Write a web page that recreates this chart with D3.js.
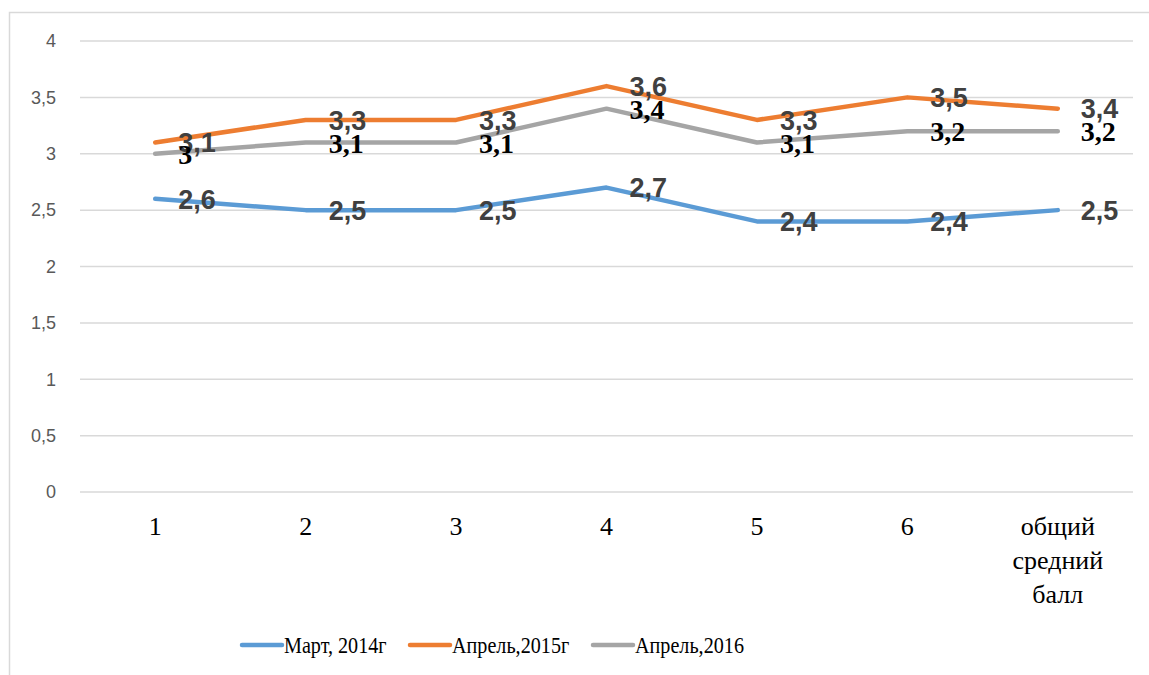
<!DOCTYPE html>
<html>
<head>
<meta charset="utf-8">
<script src="https://cdn.jsdelivr.net/npm/d3@7"></script>
<style>
  html, body { margin: 0; padding: 0; background: #fff; }
  svg { display: block; }
  .serif { font-family: "Liberation Serif", "Times New Roman", serif; }
  .sans { font-family: "Liberation Sans", Arial, sans-serif; }
</style>
</head>
<body>
<svg id="chart" width="1149" height="675"></svg>
<script>
// Categories along the x axis
const categories = ["1", "2", "3", "4", "5", "6", "общий средний балл"];

// Series values
const march2014 = [2.6, 2.5, 2.5, 2.7, 2.4, 2.4, 2.5];
const april2015 = [3.1, 3.3, 3.3, 3.6, 3.3, 3.5, 3.4];
const april2016 = [3.0, 3.1, 3.1, 3.4, 3.1, 3.2, 3.2];

// Y axis ticks
const yTicks = [0, 0.5, 1, 1.5, 2, 2.5, 3, 3.5, 4];

const seriesNames = ["Март, 2014г", "Апрель,2015г", "Апрель,2016"];

const series = [
  { name: seriesNames[0], values: march2014, color: "#5B9BD5", labelClass: "sans", labelColor: "#404040", labelSize: 27 },
  { name: seriesNames[1], values: april2015, color: "#ED7D31", labelClass: "sans", labelColor: "#404040", labelSize: 27 },
  { name: seriesNames[2], values: april2016, color: "#A5A5A5", labelClass: "serif", labelColor: "#000000", labelSize: 28 }
];

const svg = d3.select("#chart");
const fmt = v => String(v).replace(".", ",");

// Outer chart frame
svg.append("rect")
  .attr("x", 9.5).attr("y", 12.5)
  .attr("width", 1200).attr("height", 700)
  .attr("fill", "none").attr("stroke", "#d9d9d9").attr("stroke-width", 1.5);

const plot = { left: 80, right: 1133, top: 41, bottom: 492 };

const x = d3.scaleBand().domain(categories).range([plot.left, plot.right]);
const y = d3.scaleLinear().domain([0, 4]).range([plot.bottom, plot.top]);

// Horizontal gridlines
svg.append("g")
  .selectAll("line")
  .data(yTicks)
  .join("line")
  .attr("x1", plot.left).attr("x2", plot.right)
  .attr("y1", d => y(d)).attr("y2", d => y(d))
  .attr("stroke", "#d9d9d9").attr("stroke-width", 1.5);

// Y axis labels
const yAxis = d3.axisLeft(y).tickValues(yTicks).tickFormat(fmt).tickSize(0).tickPadding(0);
svg.append("g")
  .attr("transform", `translate(56,0)`)
  .call(yAxis)
  .call(g => g.attr("font-family", null).attr("font-size", null))
  .call(g => g.select(".domain").remove())
  .call(g => g.selectAll("text")
    .attr("class", "sans")
    .attr("font-size", 18)
    .attr("fill", "#595959"));

// X axis labels (wrapped for the last category)
const xAxis = d3.axisBottom(x).tickSize(0).tickPadding(0);
const xg = svg.append("g")
  .attr("transform", `translate(0,${plot.bottom})`)
  .call(xAxis)
  .attr("font-family", null).attr("font-size", null);
xg.select(".domain").remove();
xg.selectAll("text")
  .attr("class", "serif")
  .attr("font-size", 26)
  .attr("fill", "#000")
  .attr("y", 0)
  .attr("dy", 0)
  .each(function(d) {
    const t = d3.select(this);
    const words = d.split(" ");
    t.text(null);
    words.forEach((w, i) => {
      t.append("tspan")
        .attr("x", 0)
        .attr("y", 43 + i * 34)
        .text(w);
    });
  });

// Lines
const line = d3.line()
  .x((d, i) => x(categories[i]) + x.bandwidth() / 2)
  .y(d => y(d));

svg.append("g")
  .selectAll("path")
  .data(series)
  .join("path")
  .attr("d", s => line(s.values))
  .attr("fill", "none")
  .attr("stroke", s => s.color)
  .attr("stroke-width", 4.5)
  .attr("stroke-linecap", "round")
  .attr("stroke-linejoin", "round");

// Data labels to the right of each point
series.forEach(s => {
  svg.append("g")
    .selectAll("text")
    .data(s.values)
    .join("text")
    .attr("class", s.labelClass)
    .attr("x", (d, i) => x(categories[i]) + x.bandwidth() / 2 + 23)
    .attr("y", d => y(d))
    .attr("dy", "0.36em")
    .attr("font-weight", "bold")
    .attr("font-size", s.labelSize)
    .attr("fill", s.labelColor)
    .text(fmt);
});

// Legend
const legendX = [242, 410, 593];
const legend = svg.append("g");
series.forEach((s, i) => {
  const g = legend.append("g").attr("transform", `translate(${legendX[i]},645)`);
  g.append("line")
    .attr("x1", 0).attr("x2", 40)
    .attr("stroke", s.color).attr("stroke-width", 4.5)
    .attr("stroke-linecap", "round");
  g.append("text")
    .attr("class", "serif")
    .attr("transform", "translate(42,0) scale(0.84,1)")
    .attr("dy", "0.34em")
    .attr("font-size", 24)
    .attr("fill", "#000")
    .text(s.name);
});
</script>
</body>
</html>
